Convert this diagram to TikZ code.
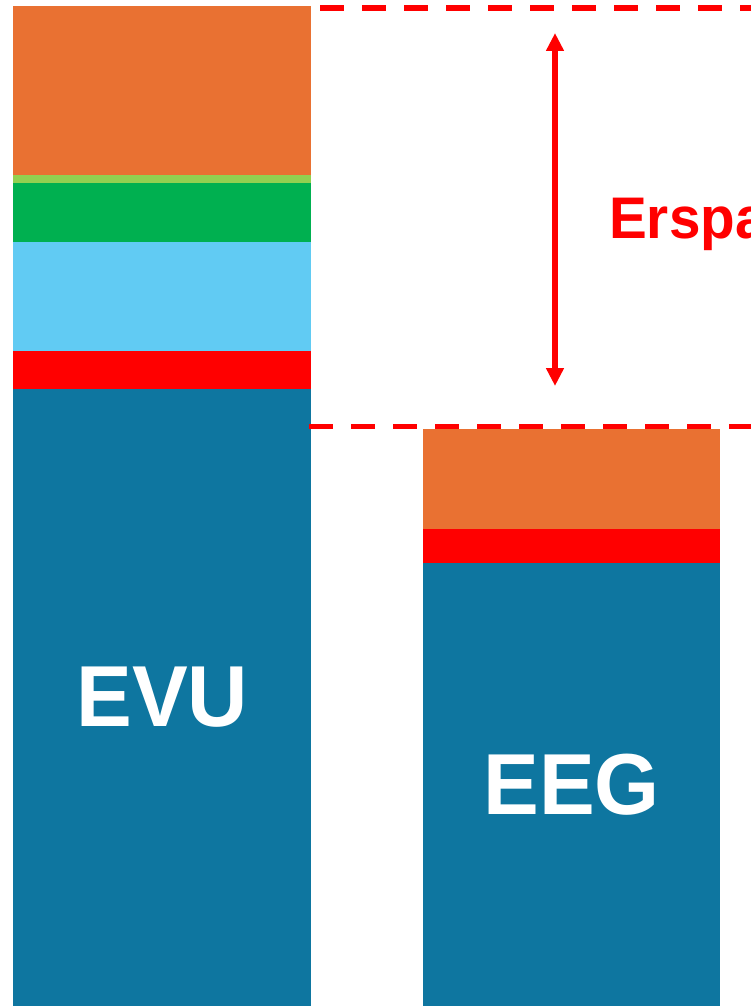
\documentclass[tikz,border=0pt]{standalone}
\usepackage{fontspec}
\setmainfont{Liberation Sans}
\newfontfamily\narrowsans{Liberation Sans}[FakeStretch=0.965]
\usepackage{xcolor}
\usetikzlibrary{arrows.meta, positioning}
\definecolor{barorange}{HTML}{E97132}
\definecolor{barlime}{HTML}{92D050}
\definecolor{bargreen}{HTML}{00B050}
\definecolor{barsky}{HTML}{61CBF3}
\definecolor{barred}{HTML}{FF0000}
\definecolor{barteal}{HTML}{0E76A0}

\begin{document}
\begin{tikzpicture}[
        x=1pt, y=-1pt,
        seg/.style={rectangle, inner sep=0pt, outer sep=0pt, minimum width=298pt},
        segr/.style={seg, minimum width=297pt},
        barlabel/.style={text=white, font=\narrowsans\bfseries\fontsize{86.6}{90}\selectfont},
        guide/.style={red, line width=5.5pt, dash pattern=on 24pt off 18pt},
        arrow/.style={{Triangle[length=18pt,width=17pt]}-{Triangle[length=18pt,width=17pt]}, red, line width=6pt},
        node distance=0pt
    ]
        \useasboundingbox (0,0) rectangle (751,1006);
        \clip (0,0) rectangle (751,1006);

        % EVU stack
        \node[seg, fill=barorange, minimum height=169pt, anchor=north west] (evuA) at (13.3,6) {};
        \node[seg, fill=barlime, minimum height=8pt, below=of evuA] (evuB) {};
        \node[seg, fill=bargreen, minimum height=58.7pt, below=of evuB] (evuC) {};
        \node[seg, fill=barsky, minimum height=109pt, below=of evuC] (evuD) {};
        \node[seg, fill=barred, minimum height=38pt, below=of evuD] (evuE) {};
        \node[seg, fill=barteal, minimum height=617.3pt, below=of evuE, barlabel] (evu) {EVU};

        % EEG stack
        \node[segr, fill=barorange, minimum height=99.7pt, anchor=north west] (eegA) at (423,429.3) {};
        \node[segr, fill=barred, minimum height=34.3pt, below=of eegA] (eegB) {};
        \node[segr, fill=barteal, minimum height=442.7pt, below=of eegB, barlabel] (eeg) {EEG};

        % savings marker
        \coordinate (topL) at (320,7.8);
        \coordinate (topR) at (760,7.8);
        \coordinate (lowL) at (309,426.7);
        \coordinate (lowR) at (760,426.7);
        \coordinate (spanTop) at (555,33);
        \coordinate (spanBot) at (555,386);

        \draw[guide] (topL) -- (topR);
        \draw[guide] (lowL) -- (lowR);
        \draw[arrow] (spanTop) -- (spanBot);

        \node[anchor=base west, inner sep=0pt, text=red, font=\narrowsans\bfseries\fontsize{58.7}{62}\selectfont] (saving) at (609,238) {Ersparnis};
    \end{tikzpicture}
\end{document}
